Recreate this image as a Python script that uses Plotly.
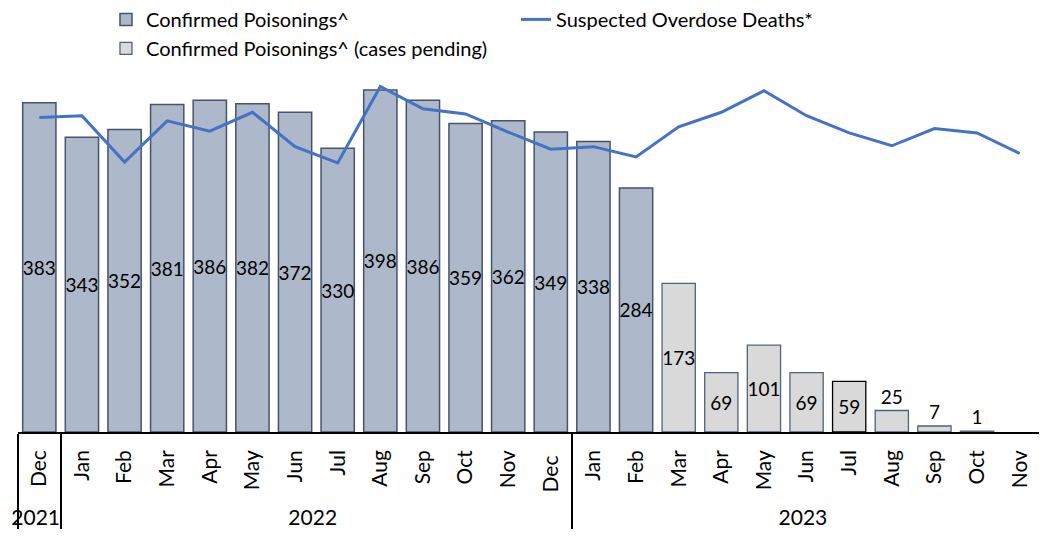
import plotly.graph_objects as go

years = ["2021"] + ["2022"] * 12 + ["2023"] * 11
# the trailing space keeps the Dec 2022 category distinct from Dec 2021 (sorting in a multicategory axis)
months = ["Dec", "Jan", "Feb", "Mar", "Apr", "May", "Jun", "Jul", "Aug", "Sep", "Oct", "Nov",
          "Dec ", "Jan", "Feb", "Mar", "Apr", "May", "Jun", "Jul", "Aug", "Sep", "Oct", "Nov"]

confirmed = [383, 343, 352, 381, 386, 382, 372, 330, 398, 386, 359, 362, 349, 338, 284,
             None, None, None, None, None, None, None, None, None]
pending = [None] * 15 + [173, 69, 101, 69, 59, 25, 7, 1, None]
deaths = [366, 368, 314, 362, 350, 372, 332, 313, 402, 376, 370, 349,
          329, 332, 320, 355, 372, 397, 368, 348, 333, 353, 348, 324]

font_family = "Lato, Carlito, Calibri, sans-serif"

conf_text = [str(v) if v is not None else "" for v in confirmed]
pend_text = [str(v) if v is not None else "" for v in pending]
pend_pos = ["outside" if (v is not None and v < 40) else "inside" for v in pending]
pend_line_colors = ["#000000" if m == "Jul" and y == "2023" else "#52627a" for y, m in zip(years, months)]

fig = go.Figure()
fig.add_trace(go.Bar(
    x=[years, months], y=confirmed, name="Confirmed Poisonings^",
    marker=dict(color="#adb9ca", line=dict(color="#44546a", width=1.5)),
    text=conf_text, textposition="inside", insidetextanchor="middle",
    textfont=dict(size=19, color="black", family=font_family),
    constraintext="none", textangle=0, width=0.78,
))
fig.add_trace(go.Scatter(
    x=[years, months], y=deaths, name="Suspected Overdose Deaths*",
    mode="lines", line=dict(color="#4472c4", width=3), yaxis="y2",
))
fig.add_trace(go.Bar(
    x=[years, months], y=pending, name="Confirmed Poisonings^ (cases pending)",
    marker=dict(color="#d9d9d9", line=dict(color=pend_line_colors, width=1.3)),
    text=pend_text, textposition=pend_pos, insidetextanchor="middle",
    textfont=dict(size=19, color="black", family=font_family),
    constraintext="none", textangle=0, width=0.78, cliponaxis=False,
))

fig.update_layout(
    template="none",
    width=1039, height=537,
    margin=dict(l=10, r=6, t=63, b=113, autoexpand=False),
    paper_bgcolor="white", plot_bgcolor="white",
    barmode="overlay",
    font=dict(family=font_family, size=19, color="black"),
    showlegend=True,
    legend=dict(orientation="h", xref="container", yref="paper",
                x=0.0943, y=1.197, xanchor="left", yanchor="top",
                entrywidth=365, font=dict(size=20), traceorder="normal",
                bgcolor="rgba(0,0,0,0)"),
    xaxis=dict(type="multicategory", tickangle=-90, showgrid=False, automargin=False,
               showline=True, linecolor="black", linewidth=1.5,
               ticks="", showdividers=True, dividercolor="black", dividerwidth=1.5,
               ticklabelstandoff=8,
               tickfont=dict(size=21, color="black")),
    yaxis=dict(range=[0, 420], visible=False, showgrid=False, automargin=False),
    yaxis2=dict(range=[0, 420], overlaying="y", visible=False, showgrid=False, automargin=False),
)

fig.write_html("out.html")
